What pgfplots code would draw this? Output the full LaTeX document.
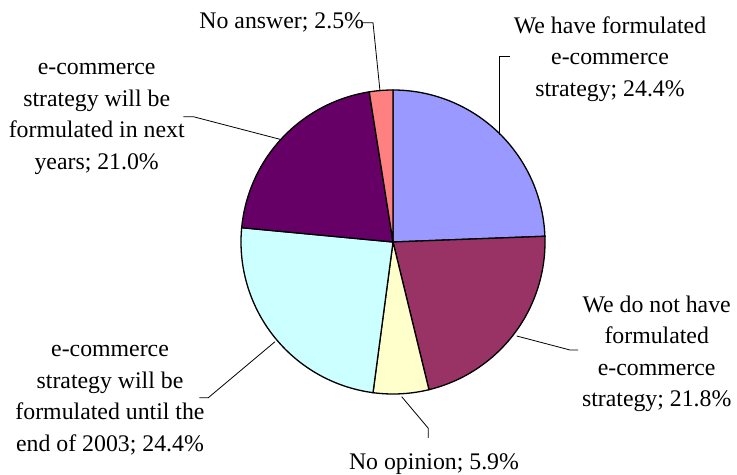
\documentclass[border=0pt]{standalone}
\usepackage{pgfplots}
\pgfplotsset{compat=1.18}
\usepackage{fontspec}
\setmainfont{Liberation Serif}
\definecolor{sA}{HTML}{9999FF}
\definecolor{sB}{HTML}{993366}
\definecolor{sC}{HTML}{FFFFCC}
\definecolor{sD}{HTML}{CCFFFF}
\definecolor{sE}{HTML}{660066}
\definecolor{sF}{HTML}{FF8080}
\newcommand\lf{\fontsize{23.8bp}{31.5bp}\selectfont}
% slice values (percent), clockwise from 12 o'clock
\def\vA{24.4}\def\vB{21.8}\def\vC{5.9}\def\vD{24.4}\def\vE{21.0}\def\vF{2.5}
\pgfmathsetmacro\aA{90}
\pgfmathsetmacro\aB{\aA-3.6*\vA}
\pgfmathsetmacro\aC{\aB-3.6*\vB}
\pgfmathsetmacro\aD{\aC-3.6*\vC}
\pgfmathsetmacro\aE{\aD-3.6*\vD}
\pgfmathsetmacro\aF{\aE-3.6*\vE}
\pgfmathsetmacro\aG{\aF-3.6*\vF}
\def\cx{393}\def\cy{233}\def\rr{152}
\begin{document}
\begin{tikzpicture}
\path[use as bounding box] (0,0) rectangle (737bp,475bp);
\begin{axis}[at={(0,0)}, anchor=south west, scale only axis,
  width=737bp, height=475bp, xmin=0, xmax=737, ymin=0, ymax=475,
  hide axis, clip=false]
\addplot[fill=sA, draw=black, line width=1.3bp, domain=\aB:\aA, samples=80] ({\cx+\rr*cos(x)},{\cy+\rr*sin(x)}) -- (\cx,\cy) -- cycle;
\addplot[fill=sB, draw=black, line width=1.3bp, domain=\aC:\aB, samples=80] ({\cx+\rr*cos(x)},{\cy+\rr*sin(x)}) -- (\cx,\cy) -- cycle;
\addplot[fill=sC, draw=black, line width=1.3bp, domain=\aD:\aC, samples=30] ({\cx+\rr*cos(x)},{\cy+\rr*sin(x)}) -- (\cx,\cy) -- cycle;
\addplot[fill=sD, draw=black, line width=1.3bp, domain=\aE:\aD, samples=80] ({\cx+\rr*cos(x)},{\cy+\rr*sin(x)}) -- (\cx,\cy) -- cycle;
\addplot[fill=sE, draw=black, line width=1.3bp, domain=\aF:\aE, samples=80] ({\cx+\rr*cos(x)},{\cy+\rr*sin(x)}) -- (\cx,\cy) -- cycle;
\addplot[fill=sF, draw=black, line width=1.3bp, domain=\aG:\aF, samples=20] ({\cx+\rr*cos(x)},{\cy+\rr*sin(x)}) -- (\cx,\cy) -- cycle;
% leader lines
\addplot[black, line width=0.8bp] coordinates {(380,384) (373,452.3) (363,452.3)};
\addplot[black, line width=0.8bp] coordinates {(499.3,340) (499.3,418.3) (510,418.3)};
\addplot[black, line width=0.8bp] coordinates {(516.7,139) (570,125) (578,125)};
\addplot[black, line width=0.8bp] coordinates {(401.7,78.3) (428.3,46.7) (428.3,37)};
\addplot[black, line width=0.8bp] coordinates {(275,133.3) (208.3,77.3) (199.3,77.3)};
\addplot[black, line width=0.8bp] coordinates {(280,335.7) (193.3,358.3) (183.3,358.3)};
% labels
\node[font=\lf, align=center] at (281.7,452.3) {No answer; 2.5\%};
\node[font=\lf, align=center] at (610,416) {We have formulated\\e-commerce\\strategy; 24.4\%};
\node[font=\lf, align=center] at (656.7,121) {We do not have\\formulated\\e-commerce\\strategy; 21.8\%};
\node[font=\lf, anchor=base, inner sep=0pt] at (434,5.5) {No opinion; 5.9\%};
\node[font=\lf, align=center] at (110,75) {e-commerce\\strategy will be\\formulated until the\\end of 2003; 24.4\%};
\node[font=\lf, align=center] at (96.7,356) {e-commerce\\strategy will be\\formulated in next\\years; 21.0\%};
\end{axis}
\end{tikzpicture}
\end{document}
